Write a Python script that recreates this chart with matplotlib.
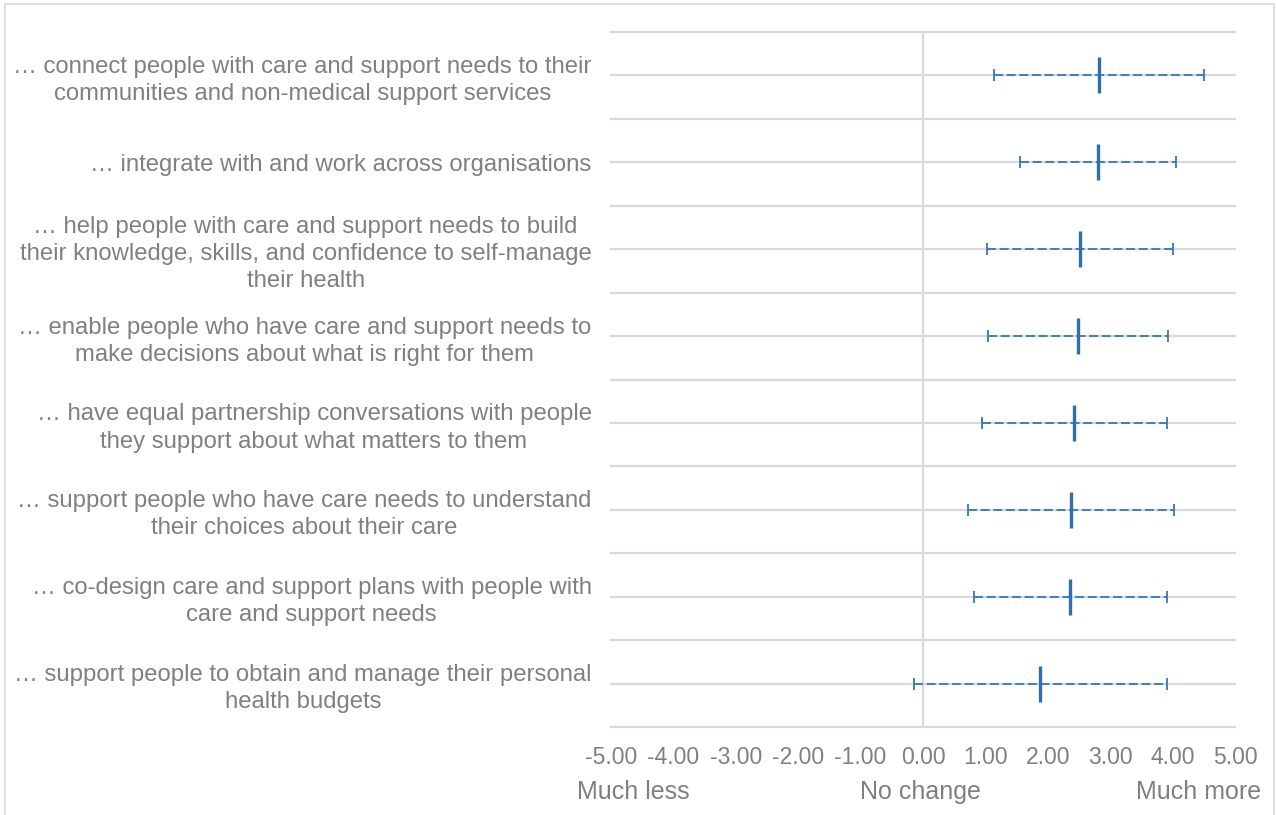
import numpy as np
import matplotlib
matplotlib.use("Agg")
import matplotlib.pyplot as plt
from matplotlib.patches import Rectangle

plt.rcParams['font.family'] = ['Liberation Sans', 'DejaVu Sans']

# statements, top to bottom
labels = [
    "\u2026 connect people with care and support needs to their\ncommunities and non-medical support services",
    "\u2026 integrate with and work across organisations",
    "\u2026 help people with care and support needs to build\ntheir knowledge, skills, and confidence to self-manage\ntheir health",
    "\u2026 enable people who have care and support needs to\nmake decisions about what is right for them",
    "\u2026 have equal partnership conversations with people\nthey support about what matters to them",
    "\u2026 support people who have care needs to understand\ntheir choices about their care",
    "\u2026 co-design care and support plans with people with\ncare and support needs",
    "\u2026 support people to obtain and manage their personal\nhealth budgets",
]
# mean score and the range either side
means = [2.82, 2.80, 2.52, 2.48, 2.42, 2.37, 2.36, 1.88]
lows = [1.14, 1.55, 1.03, 1.04, 0.95, 0.72, 0.82, -0.14]
highs = [4.50, 4.05, 4.00, 3.93, 3.91, 4.02, 3.91, 3.91]
xticks = [-5, -4, -3, -2, -1, 0, 1, 2, 3, 4, 5]

grey = '#808080'
grid_c = '#d9d9d9'
blue = '#3478b8'

fig = plt.figure(figsize=(12.76, 8.15), dpi=100)
ax = fig.add_axes([611/1276, 88/815, 624/1276, 695/815])

means = np.array(means)
lows = np.array(lows)
highs = np.array(highs)
n = len(labels)
ypos = n - 0.5 - np.arange(n)

# horizontal grid at every half step, zero line vertical
for g in np.arange(0, n + 0.5, 0.5):
    ax.axhline(g, color=grid_c, lw=1.6, zorder=0, clip_on=False)
ax.axvline(0, color=grid_c, lw=1.6, zorder=0)

eb = ax.errorbar(means, ypos, xerr=[means - lows, highs - means], fmt='none',
                 ecolor=blue, elinewidth=1.3, capsize=4, capthick=1.3, zorder=2)
eb[2][0].set_linestyle((0, (5, 2)))
ax.plot(means, ypos, ls='none', marker='|', ms=26, mew=2.4, color='#2e6fae', zorder=3)

ax.set_xlim(-5, 5)
ax.set_ylim(0, n)
ax.set_xticks(xticks)
ax.set_xticklabels([f"{v:.2f}" for v in xticks])
ax.set_yticks(ypos)
ax.set_yticklabels(labels, ha='right', multialignment='center', linespacing=1.3)
ax.tick_params(axis='x', length=0, pad=14, labelsize=16.5, labelcolor=grey)
ax.tick_params(axis='y', length=0, pad=14, labelsize=17.2, labelcolor=grey)
for s in ax.spines.values():
    s.set_visible(False)

# scale anchors under the axis
fig.text(633/1276, 1 - 792/815, "Much less", ha='center', va='center', fontsize=18, color=grey)
fig.text(920/1276, 1 - 792/815, "No change", ha='center', va='center', fontsize=18, color=grey)
fig.text(1199/1276, 1 - 792/815, "Much more", ha='center', va='center', fontsize=18, color=grey)

# chart frame
fig.patches.append(Rectangle((5/1276, -0.05), 1269/1276, 1.05 - 4/815,
                             transform=fig.transFigure, fill=False,
                             edgecolor=grid_c, lw=1.2))

fig.savefig("out.png", dpi=100)
